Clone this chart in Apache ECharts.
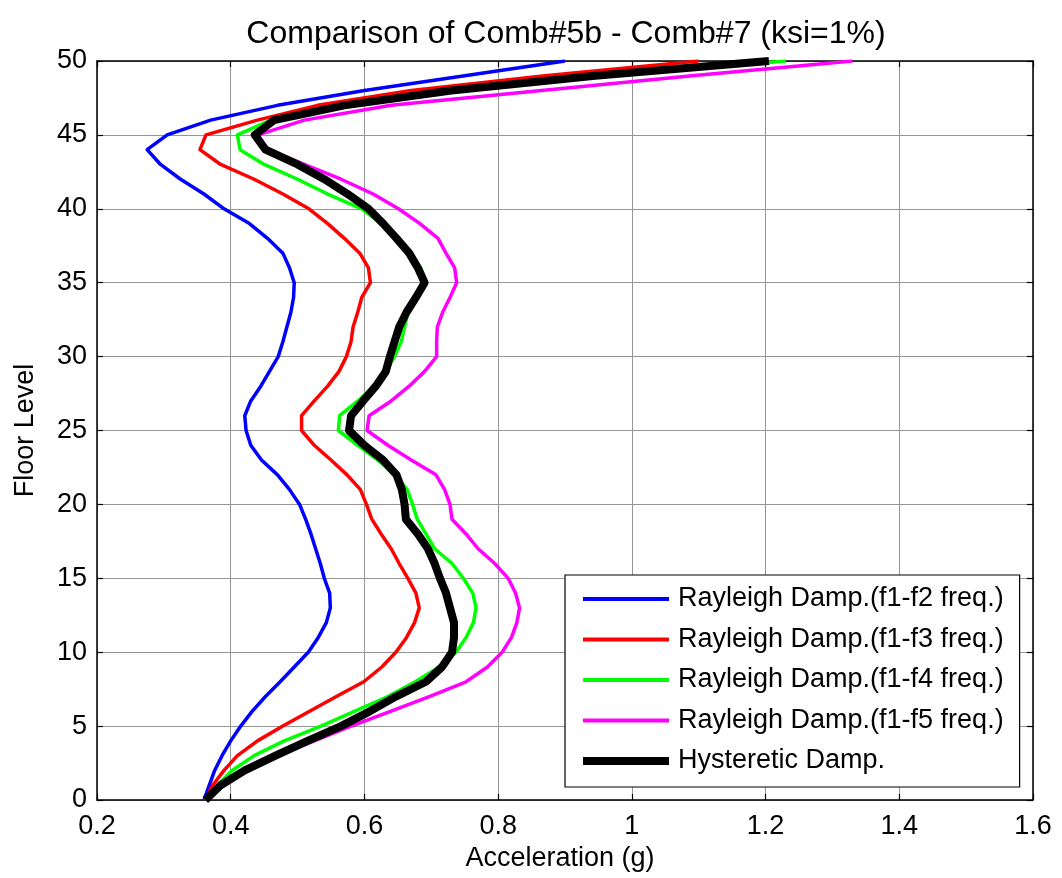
<!DOCTYPE html>
<html><head><meta charset="utf-8">
<script src="https://cdn.jsdelivr.net/npm/echarts@6/dist/echarts.min.js"></script>
<style>html,body{margin:0;padding:0;background:#fff}#c{width:1062px;height:878px}</style>
</head><body><div id="c"></div><script>
// Floor levels 0..50
const floors = [0,1,2,3,4,5,6,7,8,9,10,11,12,13,14,15,16,17,18,19,20,21,22,23,24,25,26,27,28,29,30,31,32,33,34,35,36,37,38,39,40,41,42,43,44,45,46,47,48,49,50];
// Acceleration (g) per floor
const rayleighF2 = [0.360,0.368,0.376,0.387,0.400,0.415,0.432,0.452,0.474,0.495,0.516,0.531,0.543,0.549,0.548,0.540,0.534,0.527,0.520,0.512,0.503,0.488,0.470,0.446,0.430,0.423,0.421,0.430,0.445,0.458,0.471,0.478,0.484,0.490,0.494,0.495,0.488,0.478,0.455,0.428,0.390,0.360,0.325,0.295,0.275,0.305,0.370,0.470,0.600,0.750,0.900];
const rayleighF3 = [0.362,0.373,0.390,0.410,0.440,0.478,0.518,0.558,0.599,0.626,0.647,0.663,0.675,0.682,0.677,0.665,0.652,0.640,0.625,0.611,0.603,0.594,0.574,0.550,0.525,0.506,0.506,0.525,0.545,0.562,0.573,0.580,0.583,0.590,0.596,0.609,0.606,0.593,0.570,0.545,0.517,0.478,0.435,0.385,0.354,0.363,0.440,0.530,0.670,0.870,1.100];
const rayleighF4 = [0.362,0.380,0.402,0.435,0.480,0.535,0.585,0.635,0.676,0.712,0.737,0.752,0.763,0.767,0.762,0.748,0.731,0.705,0.692,0.679,0.672,0.664,0.645,0.620,0.590,0.561,0.563,0.590,0.615,0.632,0.645,0.655,0.660,0.665,0.675,0.692,0.684,0.668,0.648,0.625,0.596,0.545,0.500,0.450,0.414,0.410,0.460,0.575,0.745,0.970,1.230];
const rayleighF5 = [0.362,0.385,0.420,0.470,0.525,0.580,0.639,0.697,0.752,0.784,0.806,0.820,0.828,0.832,0.826,0.815,0.795,0.770,0.752,0.731,0.728,0.720,0.707,0.670,0.635,0.604,0.607,0.640,0.667,0.690,0.708,0.708,0.709,0.717,0.728,0.738,0.735,0.722,0.710,0.683,0.651,0.613,0.565,0.510,0.455,0.441,0.510,0.640,0.865,1.090,1.330];
const hysteretic = [0.362,0.385,0.421,0.467,0.515,0.565,0.608,0.647,0.692,0.716,0.731,0.734,0.734,0.728,0.722,0.713,0.705,0.695,0.680,0.662,0.660,0.656,0.648,0.628,0.600,0.577,0.580,0.598,0.617,0.632,0.638,0.645,0.652,0.663,0.677,0.690,0.680,0.667,0.648,0.628,0.606,0.575,0.540,0.500,0.452,0.436,0.465,0.570,0.730,0.945,1.205];
const seriesNames = ['Rayleigh Damp.(f1-f2 freq.)','Rayleigh Damp.(f1-f3 freq.)','Rayleigh Damp.(f1-f4 freq.)','Rayleigh Damp.(f1-f5 freq.)','Hysteretic Damp.'];
const seriesValues = [rayleighF2, rayleighF3, rayleighF4, rayleighF5, hysteretic];
const seriesColors = ['#0000ff','#ff0000','#00ff00','#ff00ff','#000000'];
const seriesWidths = [3.5,3.5,3.5,3.5,8];
const titleText = 'Comparison of Comb#5b - Comb#7 (ksi=1%)';
const xName = 'Acceleration (g)';
const yName = 'Floor Level';

const FONT = '"Liberation Sans", Arial, sans-serif';
const thinIcon = 'path://M0,0M0,2.1L86,2.1L86,5.9L0,5.9ZM86,8';
const thickIcon = 'path://M0,0L86,0L86,8L0,8Z';

const chart = echarts.init(document.getElementById('c'), null, {renderer: 'canvas'});
const axisCommon = {
  type: 'value',
  axisLine: {show: true, onZero: false, lineStyle: {color: '#000', width: 1.5}},
  axisTick: {show: true, inside: true, length: 6, lineStyle: {color: '#000', width: 1.2}},
  splitLine: {show: false}
};
const option = {
  animation: false,
  backgroundColor: '#fff',
  title: {
    text: titleText, left: 561, top: 13, textAlign: 'center',
    textStyle: {fontFamily: FONT, fontSize: 32, fontWeight: 'normal', color: '#000'}
  },
  grid: {left: 97, right: 29, top: 61, bottom: 78, containLabel: false, outerBoundsMode: 'none'},
  legend: {
    orient: 'vertical', left: 565, top: 575,
    padding: [9, 16, 11, 18], itemGap: 10.5,
    itemWidth: 86, itemHeight: 8,
    backgroundColor: '#fff', borderColor: '#000', borderWidth: 1.2, borderRadius: 0,
    textStyle: {fontFamily: FONT, fontSize: 27, color: '#000', lineHeight: 30, padding: [0,0,0,4]},
    data: seriesNames.map((n, i) => ({name: n, icon: i === 4 ? thickIcon : thinIcon}))
  },
  xAxis: [
    Object.assign({}, axisCommon, {
      position: 'bottom', min: 0.2, max: 1.6, interval: 0.2,
      splitLine: {show: true, lineStyle: {color: '#959595', width: 1}},
      axisLabel: {show: true, color: '#000', fontFamily: FONT, fontSize: 27, margin: 13, showMinLabel: true, showMaxLabel: true, hideOverlap: false},
      name: xName, nameLocation: 'middle', nameGap: 45,
      nameTextStyle: {fontFamily: FONT, fontSize: 27, color: '#000', padding: [0, 10, 0, 0]}
    }),
    Object.assign({}, axisCommon, {
      position: 'top', min: 0.2, max: 1.6, interval: 0.2,
      axisLabel: {show: false}
    })
  ],
  yAxis: [
    Object.assign({}, axisCommon, {
      position: 'left', min: 0, max: 50, interval: 5,
      splitLine: {show: true, lineStyle: {color: '#959595', width: 1}},
      axisLabel: {show: true, color: '#000', fontFamily: FONT, fontSize: 27, margin: 10, showMinLabel: true, showMaxLabel: true, hideOverlap: false},
      name: yName, nameLocation: 'middle', nameGap: 58, nameRotate: 90,
      nameTextStyle: {fontFamily: FONT, fontSize: 27, color: '#000'}
    }),
    Object.assign({}, axisCommon, {
      position: 'right', min: 0, max: 50, interval: 5,
      axisLabel: {show: false}
    })
  ],
  series: seriesNames.map((n, i) => ({
    name: n, type: 'line', xAxisIndex: 0, yAxisIndex: 0,
    data: floors.map((f, k) => [seriesValues[i][k], f]),
    symbol: 'none', showSymbol: false, smooth: false,
    lineStyle: {color: seriesColors[i], width: seriesWidths[i], join: 'round'},
    itemStyle: {color: seriesColors[i]},
    emphasis: {disabled: true},
    z: 2 + i
  }))
};
chart.setOption(option);
</script></body></html>
